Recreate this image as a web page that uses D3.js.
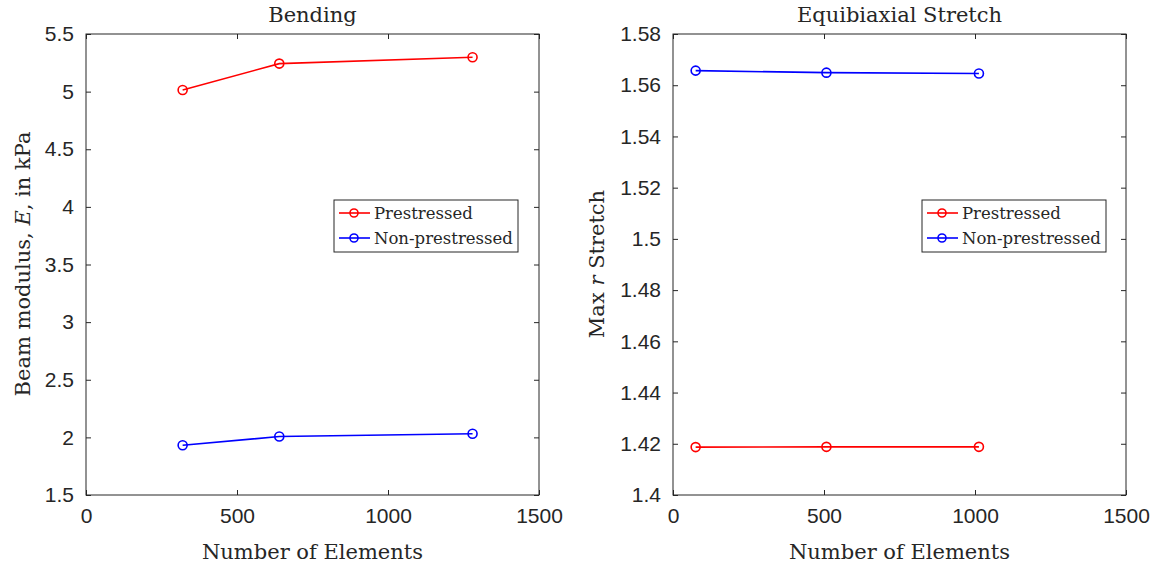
<!DOCTYPE html>
<html>
<head>
<meta charset="utf-8">
<script src="https://cdn.jsdelivr.net/npm/d3@7"></script>
<style>
body { margin: 0; background: #fff; }
.tick text { font-family: "Liberation Sans", Arial, sans-serif; font-size: 21px; fill: #262626; }
.lbl { font-family: "DejaVu Serif", "Liberation Serif", serif; fill: #262626; }
</style>
</head>
<body>
<script>
// data
var bendElements = [320, 640, 1280];
var bendPrestressed = [5.014, 5.243, 5.298];
var bendNonPrestressed = [1.932, 2.007, 2.031];

var stretchElements = [75, 508, 1013];
var stretchPrestressed = [1.4187, 1.4188, 1.4188];
var stretchNonPrestressed = [1.5657, 1.5649, 1.5646];

var xTicks = [0, 500, 1000, 1500];
var bendYTicks = [1.5, 2, 2.5, 3, 3.5, 4, 4.5, 5, 5.5];
var stretchYTicks = [1.4, 1.42, 1.44, 1.46, 1.48, 1.5, 1.52, 1.54, 1.56, 1.58];

var seriesNames = ["Prestressed", "Non-prestressed"];
var seriesColors = ["#ff0000", "#0000ff"];

var width = 1157, height = 571;
var axisColor = "#262626";

var svg = d3.select("body").append("svg")
    .attr("width", width)
    .attr("height", height);

function drawPanel(opt) {
    var x = d3.scaleLinear().domain([0, 1500]).range([opt.left, opt.right]);
    var y = d3.scaleLinear().domain(opt.yDomain).range([495, 34]);
    var g = svg.append("g");

    // box
    g.append("rect")
        .attr("x", opt.left).attr("y", 34)
        .attr("width", opt.right - opt.left).attr("height", 461)
        .attr("fill", "none").attr("stroke", axisColor).attr("stroke-width", 1);

    var fmt = function(d) { return String(+d.toFixed(2)); };

    // axes with inward ticks on all sides
    g.append("g").attr("transform", "translate(0,495)")
        .call(d3.axisBottom(x).tickValues(xTicks).tickSize(-5).tickPadding(13).tickFormat(fmt));
    g.append("g").attr("transform", "translate(0,34)")
        .call(d3.axisTop(x).tickValues(xTicks).tickSize(-5).tickFormat(""));
    g.append("g").attr("transform", "translate(" + opt.left + ",0)")
        .call(d3.axisLeft(y).tickValues(opt.yTicks).tickSize(-5).tickPadding(12).tickFormat(fmt));
    g.append("g").attr("transform", "translate(" + opt.right + ",0)")
        .call(d3.axisRight(y).tickValues(opt.yTicks).tickSize(-5).tickFormat(""));

    g.selectAll(".domain").remove();
    g.selectAll(".tick line").attr("stroke", axisColor);

    // series
    var line = d3.line()
        .x(function(d) { return x(d[0]); })
        .y(function(d) { return y(d[1]); });

    opt.series.forEach(function(vals, i) {
        var pts = opt.xs.map(function(v, j) { return [v, vals[j]]; });
        g.append("path").datum(pts)
            .attr("d", line)
            .attr("fill", "none")
            .attr("stroke", seriesColors[i])
            .attr("stroke-width", 1.6);
        g.selectAll(".m" + i).data(pts).enter().append("circle")
            .attr("cx", function(d) { return x(d[0]); })
            .attr("cy", function(d) { return y(d[1]); })
            .attr("r", 4.5)
            .attr("fill", "none")
            .attr("stroke", seriesColors[i])
            .attr("stroke-width", 1.6);
    });

    var cx = (opt.left + opt.right) / 2;
    g.append("text").attr("class", "lbl")
        .attr("x", cx).attr("y", 22)
        .attr("text-anchor", "middle").style("font-size", "21px")
        .text(opt.title);
    g.append("text").attr("class", "lbl")
        .attr("x", cx).attr("y", 559)
        .attr("text-anchor", "middle").style("font-size", "21px")
        .text("Number of Elements");

    var yl = g.append("text").attr("class", "lbl")
        .attr("transform", "translate(" + opt.yLabelX + ",264) rotate(-90)")
        .attr("text-anchor", "middle").style("font-size", "21px");
    opt.yLabel.forEach(function(part) {
        yl.append("tspan").style("font-style", part[1] ? "italic" : "normal").text(part[0]);
    });

    // legend
    var lg = g.append("g").attr("transform", "translate(" + opt.legendX + ",200)");
    lg.append("rect").attr("width", 184).attr("height", 52)
        .attr("fill", "#fff").attr("stroke", axisColor).attr("stroke-width", 1);
    seriesNames.forEach(function(name, i) {
        var yy = 13 + i * 25;
        lg.append("line").attr("x1", 5).attr("x2", 36).attr("y1", yy).attr("y2", yy)
            .attr("stroke", seriesColors[i]).attr("stroke-width", 1.6);
        lg.append("circle").attr("cx", 20).attr("cy", yy).attr("r", 4)
            .attr("fill", "none").attr("stroke", seriesColors[i]).attr("stroke-width", 1.6);
        lg.append("text").attr("class", "lbl")
            .attr("x", 40).attr("y", yy + 6).style("font-size", "16.5px")
            .text(name);
    });
}

drawPanel({
    left: 86, right: 539,
    yDomain: [1.5, 5.5], yTicks: bendYTicks,
    xs: bendElements, series: [bendPrestressed, bendNonPrestressed],
    title: "Bending",
    yLabel: [["Beam modulus, ", false], ["E", true], [", in kPa", false]],
    yLabelX: 30, legendX: 334
});

drawPanel({
    left: 673, right: 1126,
    yDomain: [1.4, 1.58], yTicks: stretchYTicks,
    xs: stretchElements, series: [stretchPrestressed, stretchNonPrestressed],
    title: "Equibiaxial Stretch",
    yLabel: [["Max ", false], ["r", true], [" Stretch", false]],
    yLabelX: 604, legendX: 922
});
</script>
</body>
</html>
